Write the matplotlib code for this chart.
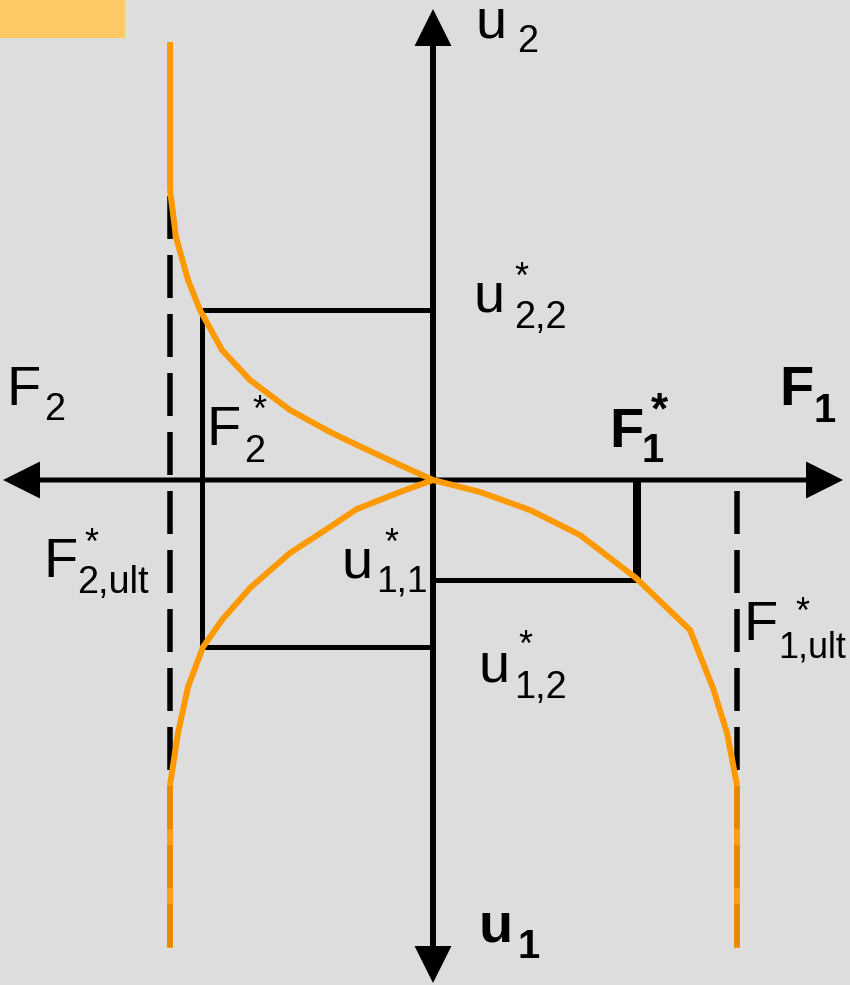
"""Load–displacement sketch: two force axes (F1 right, F2 left) against
two displacement axes (u2 up, u1 down), with the softening curves that
approach the ultimate forces F*_ult."""

import matplotlib

matplotlib.use("Agg")
import matplotlib.pyplot as plt
from matplotlib.patches import FancyArrow, Rectangle

BG = "#dddddd"
ORANGE = "#ff9900"
TAB = "#ffca66"

# curve F2 (left) vs u2 (up)
f2_up = [-263, -257, -245, -233, -211, -183, -143, -103, -76, -33, 0]
u2_up = [290, 243, 200, 170, 130, 100, 70, 48, 35, 15, 0]

# curve F2 (left) vs u1 (down)
f2_dn = [0, -33, -76, -103, -143, -183, -211, -230, -245, -255, -263]
u1_dn = [0, -12, -29, -47, -73, -108, -140, -167, -207, -253, -305]

# curve F1 (right) vs u1 (down)
f1_dn = [0, 47, 97, 147, 203, 257, 280, 294, 304]
u1_rt = [0, -12, -30, -55, -98, -150, -208, -253, -305]

# characteristic values
F2_ULT, F1_ULT = -263, 304
F2_STAR, F1_STAR = -231, 204
U22, U12, U11 = 170, -167, -100
TOP, BOTTOM = 438, -468

plt.rcParams["font.family"] = ["Liberation Sans", "DejaVu Sans"]
plt.rcParams["lines.scale_dashes"] = False

fig = plt.figure(figsize=(850 / 72, 985 / 72), dpi=72, facecolor=BG)
ax = fig.add_axes([0, 0, 1, 1])
ax.set_xlim(-433, 417)
ax.set_ylim(-505, 480)
ax.axis("off")

ax.add_patch(Rectangle((-433, 442), 125, 38, color=TAB, lw=0))

# asymptotes at the ultimate forces
ax.plot([F2_ULT, F2_ULT], [TOP, BOTTOM], color="k", lw=5.5,
        ls=(23, (43, 16)), solid_capstyle="butt")
ax.plot([F1_ULT, F1_ULT], [-11, BOTTOM], color="k", lw=5.5,
        ls=(0, (43, 16)), solid_capstyle="butt")

# construction lines
kw = dict(color="k", lw=5, solid_capstyle="butt")
ax.plot([F2_STAR, F2_STAR], [U22, U12], **kw)
ax.plot([F2_STAR, 0], [U22, U22], **kw)
ax.plot([F2_STAR, 0], [U12, U12], **kw)
ax.plot([0, F1_STAR], [U11, U11], **kw)
ax.plot([F1_STAR, F1_STAR], [0, U11], color="k", lw=8, solid_capstyle="butt")

# axes with arrow heads
for dx, dy, w in [(410, 0, 5), (-430, 0, 5), (0, 471, 6), (0, -503, 6)]:
    ax.add_patch(FancyArrow(0, 0, dx, dy, width=w, head_width=37,
                            head_length=37, length_includes_head=True,
                            color="k", lw=0))

# curves
ck = dict(color=ORANGE, lw=6, solid_joinstyle="miter", solid_capstyle="butt")
ax.plot(f2_up, u2_up, **ck)
ax.plot(f2_dn, u1_dn, **ck)
ax.plot(f1_dn, u1_rt, **ck)
ax.plot([F2_ULT, F2_ULT], [TOP, u2_up[0]], **ck)
ax.plot([F2_ULT, F2_ULT], [u1_dn[-1], BOTTOM], alpha=0.9, **ck)
ax.plot([F1_ULT, F1_ULT], [u1_rt[-1], BOTTOM], alpha=0.9, **ck)


def put(x, y, s, size, bold=False):
    ax.text(x, y, s, fontsize=size, ha="left", va="baseline",
            fontweight="bold" if bold else "normal", color="k")


# axis names
put(-427, 75, "F", 56)
put(-389, 60, "2", 38)
put(42, 442, "u", 56)
put(84, 428, "2", 38)
put(346, 75, "F", 56, True)
put(381, 58, "1", 40, True)
put(46, -462, "u", 56, True)
put(85, -478, "1", 40, True)

# starred values
put(40, 168, "u", 56)
put(81, 152, "2,2", 38)
put(81, 192, "*", 36)

put(-227, 35, "F", 56)
put(-189, 18, "2", 38)
put(-181, 59, "*", 36)

put(-390, -97, "F", 56)
put(-356, -113, "2,ult", 38)
put(-349, -74, "*", 36)

put(-92, -97, "u", 56)
put(-57, -112, "1,1", 37)
put(-49, -74, "*", 36)

put(45, -202, "u", 56)
put(81, -218, "1,2", 38)
put(85, -176, "*", 36)

put(310, -160, "F", 56)
put(345, -177, "1,ult", 36)
put(362, -143, "*", 36)

put(176, 33, "F", 56, True)
put(208, 18, "1", 40, True)
put(218, 57, "*", 44, True)

fig.savefig("out.png", dpi=72, facecolor=BG)
